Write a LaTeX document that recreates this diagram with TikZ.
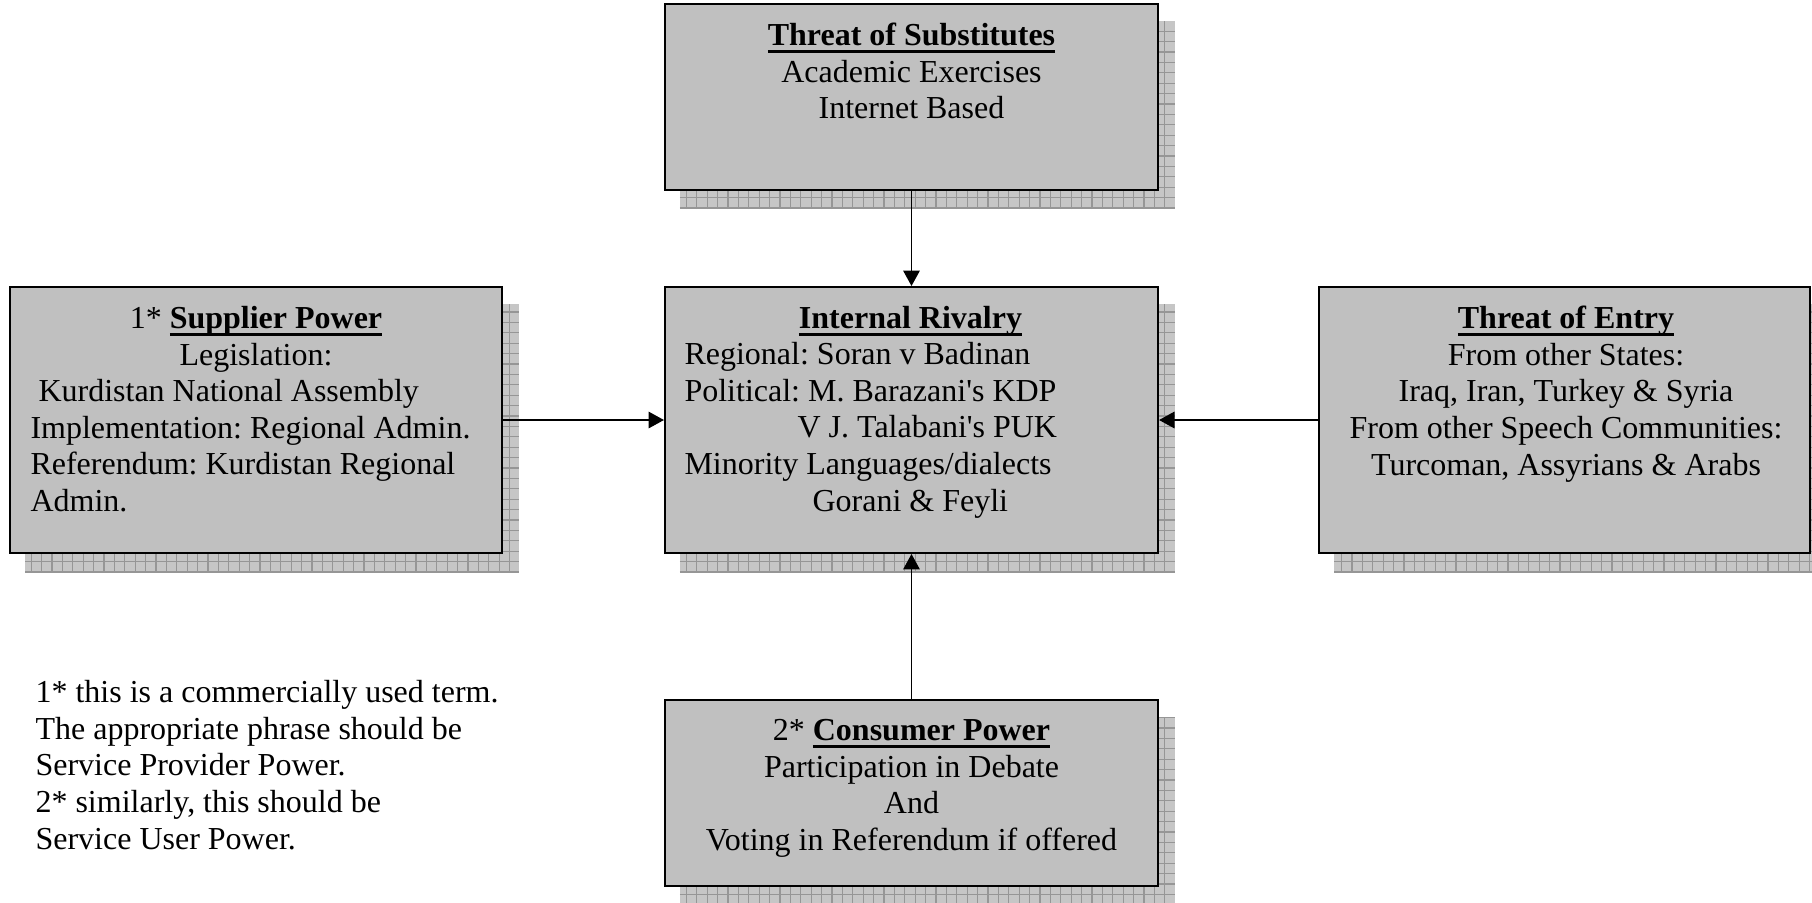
\documentclass[tikz,border=0pt]{standalone}
\usepackage{fontspec}
\setmainfont{Liberation Serif}
\usetikzlibrary{arrows.meta,backgrounds}

\definecolor{boxgray}{RGB}{192,192,192}
\definecolor{shadowfill}{RGB}{198,198,198}
\definecolor{gridgray}{RGB}{150,150,150}

% strut that fixes the height of a node's first line
\newcommand\firstln{\rule{0pt}{10pt}}
% underline at a fixed depth, crossing descenders
\newcommand\uline[1]{\setbox0\hbox{#1}\rlap{\rule[-2.7pt]{\wd0}{0.9pt}}\box0}
% hatched drop shadow behind a box
\newcommand\gridshadow[1]{%
  \begin{scope}[on background layer]
    \begin{scope}
      \fill[shadowfill] ([shift={(16,18)}]#1.north west) rectangle ([shift={(16,18)}]#1.south east);
      \clip ([shift={(16,18)}]#1.north west) rectangle ([shift={(16,18)}]#1.south east);
      \draw[gridgray, line width=0.4pt, step=3.9pt] ([shift={(16,18)}]#1.north west) grid ([shift={(16,18)}]#1.south east);
    \end{scope}
  \end{scope}}

\tikzset{
  box/.style={draw, line width=0.75pt, fill=boxgray, inner sep=0pt},
  txt/.style={inner sep=0pt, font=\fontsize{12pt}{13.75pt}\selectfont\frenchspacing},
  conn/.style={line width=0.6pt, -{Triangle[length=5.8pt,width=6.2pt]}}
}

\begin{document}
\begin{tikzpicture}[x=0.375pt, y=-0.375pt]
  \clip (0,0) rectangle (1812,902);

  % the five boxes
  \node[box, minimum width=184.9pt, minimum height=69.75pt] (sub) at (911.5,97) {};
  \node[box, minimum width=184.5pt, minimum height=99.75pt] (sup) at (256,420) {};
  \node[box, minimum width=184.9pt, minimum height=99.75pt] (riv) at (911.5,420) {};
  \node[box, minimum width=184.1pt, minimum height=99.75pt] (ent) at (1564.5,420) {};
  \node[box, minimum width=184.9pt, minimum height=69.75pt] (con) at (911.5,793) {};

  \gridshadow{sub}
  \gridshadow{sup}
  \gridshadow{riv}
  \gridshadow{ent}
  \gridshadow{con}

  % Threat of Substitutes
  \node[txt, align=center, anchor=north] (subT) at (911.5,18.3)
    {\firstln\uline{\textbf{Threat of Substitutes}}\\Academic Exercises\\Internet Based};

  % Supplier Power
  \node[txt, align=center, anchor=north] (supT) at (256,301.3)
    {\firstln 1* \uline{\textbf{Supplier Power}}\\Legislation:};
  \node[txt, align=left, anchor=north west] (supL) at (30,374.3)
    {\firstln\hspace*{3pt}Kurdistan National Assembly\\Implementation: Regional Admin.\\Referendum: Kurdistan Regional\\Admin.};

  % Internal Rivalry
  \node[txt, align=center, anchor=north] (rivT) at (910.5,301.3)
    {\firstln\uline{\textbf{Internal Rivalry}}};
  \node[txt, align=left, anchor=north west] (rivL) at (684,337.3)
    {\firstln Regional: Soran v Badinan\\
     Political: M. Barazani\textquotesingle s KDP\\
     \hspace*{42.4pt}V J. Talabani\textquotesingle s PUK\\
     Minority Languages/dialects\\
     \hspace*{48pt}Gorani \& Feyli};

  % Threat of Entry
  \node[txt, align=center, anchor=north] (entT) at (1566,301.3)
    {\firstln\uline{\textbf{Threat of Entry}}\\From other States:\\Iraq, Iran, Turkey \& Syria\\From other Speech Communities:\\Turcoman, Assyrians \& Arabs};

  % Consumer Power
  \node[txt, align=center, anchor=north] (conT) at (911.5,713.3)
    {\firstln 2* \uline{\textbf{Consumer Power}}\\Participation in Debate\\And\\Voting in Referendum if offered};

  % footnotes
  \node[txt, align=left, anchor=north west] (notes) at (35,675.3)
    {\firstln 1* this is a commercially used term.\\
     The appropriate phrase should be\\
     Service Provider Power.\\
     2* similarly, this should be\\
     Service User Power.};

  % forces acting on the centre
  \draw[conn] (sub) -- (riv);
  \draw[conn] (sup) -- (riv);
  \draw[conn] (ent) -- (riv);
  \draw[conn] (con) -- (riv);
\end{tikzpicture}
\end{document}
